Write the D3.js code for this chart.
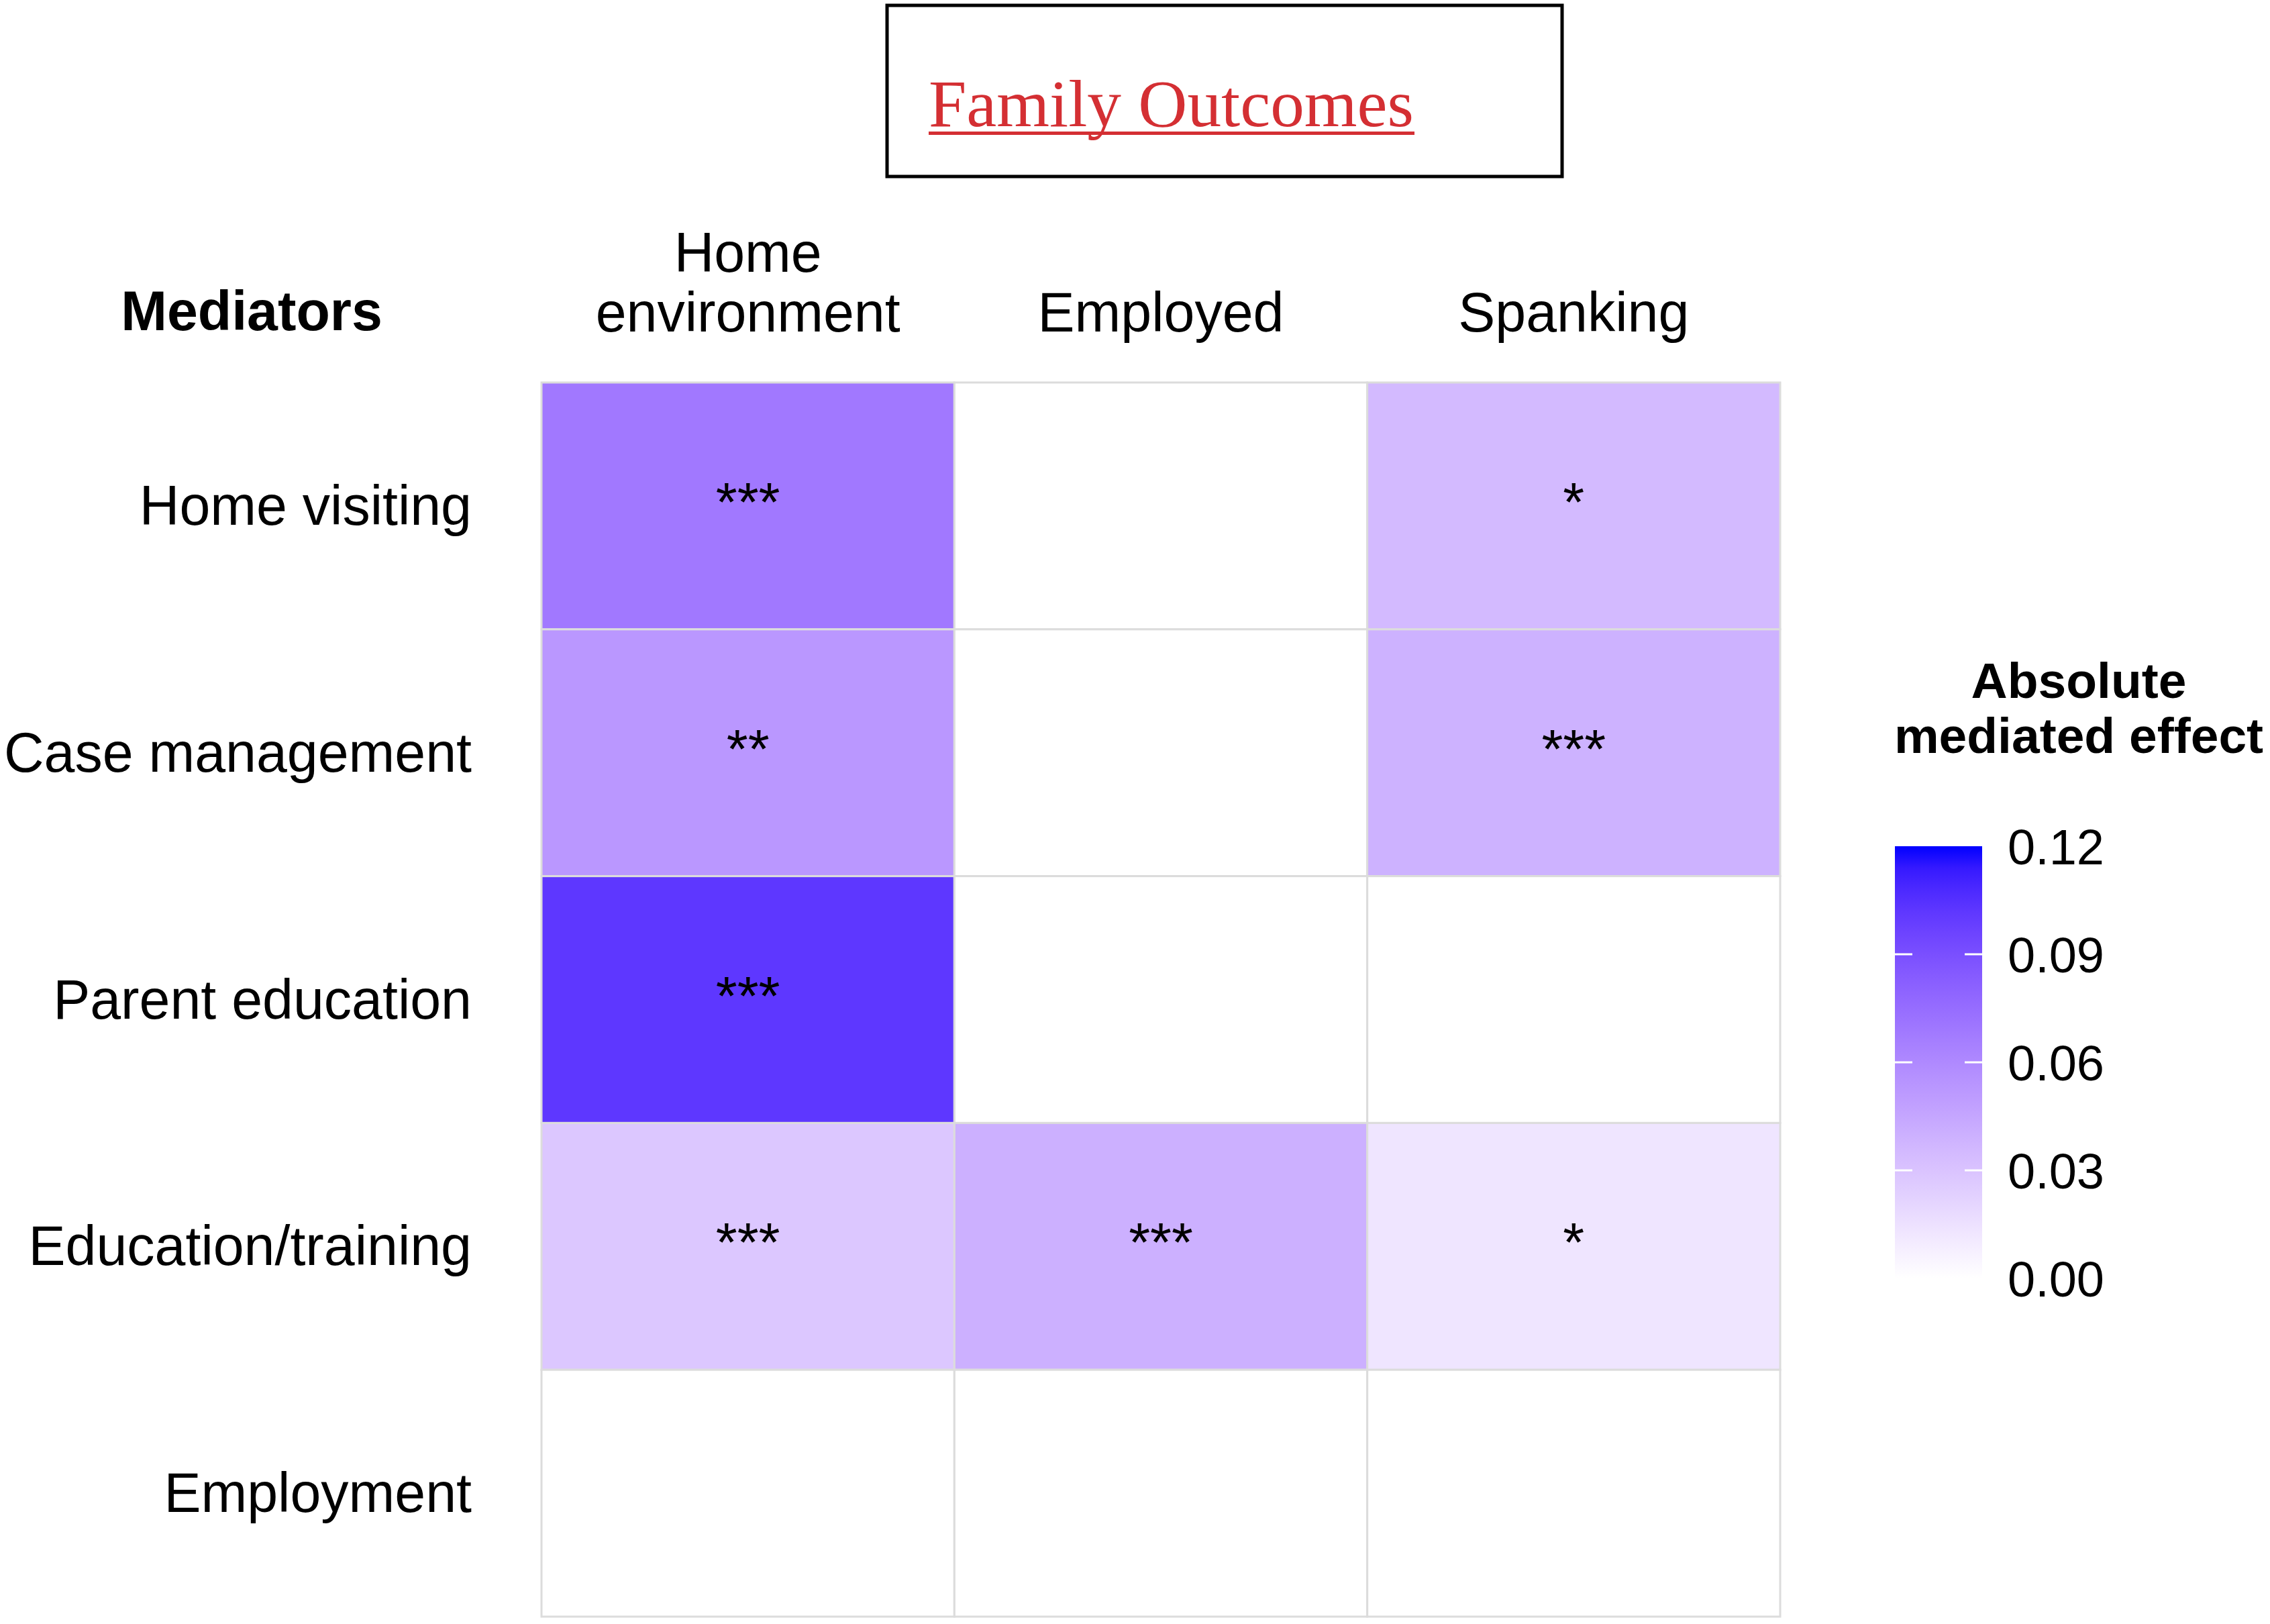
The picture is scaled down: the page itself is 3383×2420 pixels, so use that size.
<!DOCTYPE html>
<html>
<head>
<meta charset="utf-8">
<script src="https://cdn.jsdelivr.net/npm/d3@7"></script>
<style>
  html, body { margin: 0; padding: 0; background: #fff; }
  svg { display: block; }
  text { font-family: "Liberation Sans", Arial, sans-serif; fill: #000; }
</style>
</head>
<body>
<svg id="chart"></svg>
<script>
// Outcomes (columns) and mediators (rows)
const outcomes = ["Home environment", "Employed", "Spanking"];
const outcomeLines = [["Home", "environment"], ["Employed"], ["Spanking"]];
const mediators = ["Home visiting", "Case management", "Parent education", "Education/training", "Employment"];

// Absolute mediated effect per outcome, one value per mediator (null = not shown)
const homeEnvironment = [0.069, 0.053, 0.102, 0.028, null];
const employed        = [null, null, null, 0.040, null];
const spanking        = [0.035, 0.039, null, 0.013, null];

// Significance stars per outcome
const homeEnvironmentStars = ["***", "**", "***", "***", ""];
const employedStars        = ["", "", "", "***", ""];
const spankingStars        = ["*", "***", "", "*", ""];

// Legend
const legendTicks = [0, 0.03, 0.06, 0.09, 0.12];
const legendDomain = [0, 0.12];

const width = 3383, height = 2420;
const grid = { left: 807, right: 2653, top: 570, bottom: 2409 };

const svg = d3.select("#chart")
    .attr("width", width)
    .attr("height", height);

// Build long table for the tiles
const effectCols = [homeEnvironment, employed, spanking];
const starCols = [homeEnvironmentStars, employedStars, spankingStars];
const cells = [];
outcomes.forEach((o, i) => {
    mediators.forEach((m, j) => {
        cells.push({ outcome: o, mediator: m, value: effectCols[i][j], stars: starCols[i][j] });
    });
});

// Scales
const x = d3.scaleBand().domain(outcomes).range([grid.left, grid.right]);
const y = d3.scaleBand().domain(mediators).range([grid.top, grid.bottom]);
const color = d3.scaleSequential(d3.interpolateLab("#ffffff", "#0000ff")).domain(legendDomain);

// Title box
svg.append("rect")
    .attr("x", 1322).attr("y", 8)
    .attr("width", 1006).attr("height", 255)
    .attr("fill", "#fff")
    .attr("stroke", "#000")
    .attr("stroke-width", 5);

svg.append("text")
    .attr("x", 1384).attr("y", 188)
    .style("font-family", "'Liberation Serif', 'Times New Roman', serif")
    .style("font-size", "100px")
    .style("fill", "#d42f33")
    .attr("textLength", 723)
    .attr("lengthAdjust", "spacingAndGlyphs")
    .text("Family Outcomes");

svg.append("rect")
    .attr("x", 1384).attr("y", 196)
    .attr("width", 724).attr("height", 5)
    .attr("fill", "#d42f33");

// Tiles
const chart = svg.append("g");

chart.selectAll(".tile")
    .data(cells)
    .join("rect")
    .attr("class", "tile")
    .attr("x", d => x(d.outcome))
    .attr("y", d => y(d.mediator))
    .attr("width", x.bandwidth())
    .attr("height", y.bandwidth())
    .attr("fill", d => d.value == null ? "#ffffff" : color(d.value))
    .attr("stroke", "#dcdcdc")
    .attr("stroke-width", 3);

// Stars
chart.selectAll(".stars")
    .data(cells.filter(d => d.stars))
    .join("text")
    .attr("class", "stars")
    .attr("x", d => x(d.outcome) + x.bandwidth() / 2)
    .attr("y", d => y(d.mediator) + y.bandwidth() / 2 + 22)
    .attr("text-anchor", "middle")
    .style("font-size", "82px")
    .text(d => d.stars);

// Row labels
svg.selectAll(".row-label")
    .data(mediators)
    .join("text")
    .attr("class", "row-label")
    .attr("x", 703)
    .attr("y", d => y(d) + y.bandwidth() / 2 + 28)
    .attr("text-anchor", "end")
    .style("font-size", "82.5px")
    .text(d => d);

// Column labels
const colLabels = svg.selectAll(".col-label")
    .data(outcomes)
    .join("text")
    .attr("class", "col-label")
    .attr("text-anchor", "middle")
    .style("font-size", "82.5px");

colLabels.each(function (d, i) {
    const lines = outcomeLines[i];
    const cx = x(d) + x.bandwidth() / 2;
    d3.select(this).selectAll("tspan")
        .data(lines)
        .join("tspan")
        .attr("x", cx)
        .attr("y", (l, k) => 494 - (lines.length - 1 - k) * 89)
        .text(l => l);
});

svg.append("text")
    .attr("x", 375).attr("y", 492)
    .attr("text-anchor", "middle")
    .style("font-size", "82.5px")
    .style("font-weight", "bold")
    .text("Mediators");

// Legend
const legend = { x: 2824, w: 130, top: 1261, bottom: 1905 };
const legendScale = d3.scaleLinear().domain(legendDomain).range([legend.bottom, legend.top]);

const defs = svg.append("defs");
const grad = defs.append("linearGradient")
    .attr("id", "legend-grad")
    .attr("x1", 0).attr("y1", 1).attr("x2", 0).attr("y2", 0);
d3.range(0, 1.0001, 0.05).forEach(t => {
    grad.append("stop")
        .attr("offset", t)
        .attr("stop-color", color(legendDomain[0] + t * (legendDomain[1] - legendDomain[0])));
});

svg.append("rect")
    .attr("x", legend.x).attr("y", legend.top)
    .attr("width", legend.w).attr("height", legend.bottom - legend.top)
    .attr("fill", "url(#legend-grad)");

// white tick marks on both edges of the colour bar
const tickLen = 26;
svg.selectAll(".legend-tick-l")
    .data(legendTicks.slice(1, -1))
    .join("line")
    .attr("x1", legend.x).attr("x2", legend.x + tickLen)
    .attr("y1", d => legendScale(d)).attr("y2", d => legendScale(d))
    .attr("stroke", "#fff").attr("stroke-width", 3);
svg.selectAll(".legend-tick-r")
    .data(legendTicks.slice(1, -1))
    .join("line")
    .attr("x1", legend.x + legend.w - tickLen).attr("x2", legend.x + legend.w)
    .attr("y1", d => legendScale(d)).attr("y2", d => legendScale(d))
    .attr("stroke", "#fff").attr("stroke-width", 3);

const legendAxis = d3.axisRight(legendScale)
    .tickValues(legendTicks)
    .tickFormat(d3.format(".2f"))
    .tickSize(0)
    .tickPadding(0);

const axisG = svg.append("g")
    .attr("transform", `translate(${legend.x + legend.w + 38},0)`)
    .call(legendAxis);
axisG.select(".domain").remove();
axisG.selectAll("text")
    .attr("dy", null)
    .attr("y", 26)
    .style("font-family", "'Liberation Sans', Arial, sans-serif")
    .style("font-size", "74px")
    .attr("fill", "#000");

svg.append("text")
    .attr("text-anchor", "middle")
    .style("font-size", "75px")
    .style("font-weight", "bold")
    .selectAll("tspan")
    .data(["Absolute", "mediated effect"])
    .join("tspan")
    .attr("x", 3098)
    .attr("y", (d, i) => 1040 + i * 82)
    .text(d => d);
</script>
</body>
</html>
